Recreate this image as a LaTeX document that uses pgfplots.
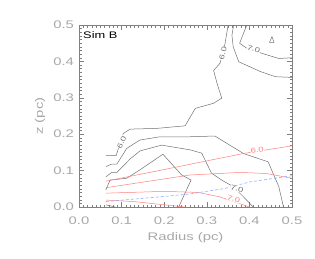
\documentclass[border=0pt]{standalone}
\usepackage{pgfplots}
\pgfplotsset{compat=1.18}
\usepackage{fontspec}
\setmainfont{Liberation Sans}
\newfontfamily\idl[FakeStretch=1.35]{Liberation Sans}
\definecolor{axgray}{HTML}{808080}
\definecolor{lblgray}{HTML}{A8A8A8}
\definecolor{cgray}{HTML}{707070}
\definecolor{cred}{HTML}{FF7F7F}
\definecolor{cblue}{HTML}{8FAEFF}
\begin{document}
\begin{tikzpicture}
\begin{axis}[
  scale only axis, width=213pt, height=182pt,
  xmin=0, xmax=0.5, ymin=0, ymax=0.5,
  xtick={0,0.1,0.2,0.3,0.4,0.5}, ytick={0,0.1,0.2,0.3,0.4,0.5},
  minor tick num=9,
  tick align=inside,
  major tick length=5pt, minor tick length=2.5pt,
  axis line style={axgray, line width=0.5pt},
  every tick/.style={axgray, line width=0.4pt},
  /pgf/number format/assume math mode=true,
  xticklabel style={/pgf/number format/fixed, /pgf/number format/fixed zerofill, /pgf/number format/precision=1, font=\idl\fontsize{11}{12}\selectfont, text=lblgray, yshift=-6pt},
  yticklabel style={/pgf/number format/fixed, /pgf/number format/fixed zerofill, /pgf/number format/precision=1, font=\idl\fontsize{11}{12}\selectfont, text=lblgray, xshift=-1.5pt},
  xlabel={Radius (pc)},
  label style={font=\idl\fontsize{11}{12}\selectfont, text=lblgray},
  xlabel style={at={(rel axis cs:0.5,0)}, anchor=center, yshift=-31pt},
  clip=true,
]
% gray contours
\addplot[cgray, line width=0.5pt] coordinates {(0.063,0.141)(0.087,0.141)(0.095,0.17)(0.104,0.202)(0.12,0.214)(0.183,0.216)(0.249,0.223)(0.273,0.271)(0.316,0.285)(0.335,0.299)(0.324,0.34)(0.316,0.375)(0.331,0.395)(0.343,0.45)(0.35,0.5)};
\addplot[cgray, line width=0.5pt] coordinates {(0.363,0.5)(0.359,0.472)(0.362,0.44)(0.375,0.399)(0.426,0.372)(0.461,0.358)(0.5,0.356)};
\addplot[cgray, line width=0.5pt] coordinates {(0.394,0.5)(0.377,0.45)(0.395,0.435)(0.441,0.418)(0.469,0.408)(0.5,0.41)};
\addplot[cgray, line width=0.5pt] coordinates {(0.447,0.452)(0.453,0.468)(0.458,0.452)(0.447,0.452)};
\addplot[cgray, line width=0.5pt] coordinates {(0.063,0.111)(0.077,0.118)(0.089,0.118)(0.112,0.161)(0.143,0.184)(0.19,0.193)(0.261,0.193)(0.319,0.195)(0.386,0.147)(0.444,0.124)(0.469,0.056)(0.48,0)};
\addplot[cgray, line width=0.5pt] coordinates {(0.063,0.083)(0.077,0.095)(0.089,0.095)(0.12,0.132)(0.143,0.154)(0.194,0.170)(0.261,0.157)(0.288,0.148)(0.311,0.093)(0.335,0.074)(0.362,0.056)(0.386,0.028)(0.409,0)};
\addplot[cgray, line width=0.5pt] coordinates {(0.063,0.047)(0.073,0.074)(0.112,0.079)(0.143,0.102)(0.197,0.145)(0.241,0.088)(0.263,0.074)(0.234,0)};
\addplot[cgray, line width=0.5pt] coordinates {(0.063,0.006)(0.085,0.0)};
% red contours
\addplot[cred, line width=0.5pt] coordinates {(0.063,0.071)(0.2,0.103)(0.386,0.147)(0.5,0.168)};
\addplot[cred, line width=0.5pt] coordinates {(0.063,0.053)(0.261,0.088)(0.378,0.095)(0.44,0.092)(0.5,0.079)};
\addplot[cred, line width=0.5pt] coordinates {(0.063,0.038)(0.2,0.043)(0.28,0.040)(0.33,0.028)(0.40,0)};
\addplot[cred, line width=0.5pt] coordinates {(0.063,0.019)(0.128,0.015)(0.249,0)};
% blue dashed
\addplot[cblue, line width=0.6pt, dash pattern=on 3pt off 2pt] coordinates {(0.063,0.015)(0.19,0.028)(0.261,0.036)(0.343,0.051)(0.401,0.069)(0.5,0.086)};
% contour labels
\begin{scope}[every node/.style={font=\idl\fontsize{7}{8}\selectfont, fill=white, inner sep=0.2pt}]
\node[text=cgray, rotate=65] at (axis cs:0.1,0.178) {6.0};
\node[text=cgray, rotate=75] at (axis cs:0.338,0.422) {6.0};
\node[text=cgray, rotate=-20] at (axis cs:0.41,0.434) {7.0};
\node[text=cgray, rotate=-15] at (axis cs:0.371,0.05) {7.0};
\node[text=cred, rotate=10] at (axis cs:0.418,0.156) {6.0};
\node[text=cred, rotate=-20] at (axis cs:0.363,0.022) {7.0};
\end{scope}
\node[anchor=north west, font=\idl\fontsize{9.5}{10}\selectfont, text=black, inner sep=0pt] at ([shift={(4pt,-6pt)}]rel axis cs:0,1) {Sim B};
\coordinate (bl) at (rel axis cs:0,0);
\coordinate (tr) at (rel axis cs:1,1);
\coordinate (ml) at (rel axis cs:0,0.5);
\end{axis}
\node[rotate=90, anchor=center, font=\idl\fontsize{11}{12}\selectfont, text=lblgray] at ([shift={(-39pt,0pt)}]ml) {z (pc)};
\pgfresetboundingbox
\path[use as bounding box] ([shift={(-79pt,-51pt)}]bl) rectangle ([shift={(23pt,25pt)}]tr);
\end{tikzpicture}
\end{document}
